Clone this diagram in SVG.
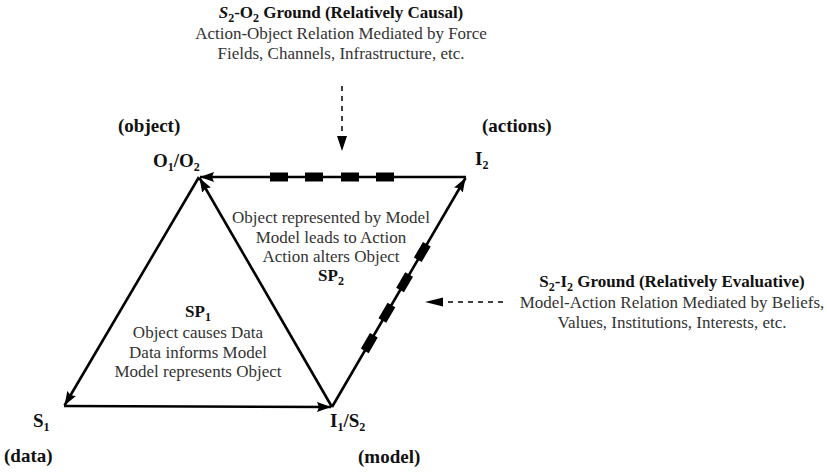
<svg xmlns="http://www.w3.org/2000/svg" width="827" height="472" viewBox="0 0 827 472">
<style>
.t{font-family:"Liberation Serif","Times New Roman",serif;font-size:17px;fill:#333;text-anchor:middle}
.h{font-family:"Liberation Serif","Times New Roman",serif;font-size:17px;font-weight:bold;fill:#111;text-anchor:middle}
.l{font-family:"Liberation Serif","Times New Roman",serif;font-size:19px;font-weight:bold;fill:#111}
.sub{font-size:12px}
.edge{stroke:#000;stroke-width:2.6;fill:none}
.dash{stroke:#000;stroke-width:1.5;fill:none;stroke-dasharray:5 5}
.blk{fill:#000}
</style>
<defs>
<marker id="ah" markerUnits="userSpaceOnUse" markerWidth="16" markerHeight="12" refX="14" refY="5" orient="auto">
<path d="M0,0 L14,5 L0,10 L2,5 z" fill="#000"/>
</marker>
</defs>
<rect width="827" height="472" fill="#fff"/>
<g id="connectors">
<line class="edge" x1="466" y1="177" x2="200" y2="177" marker-end="url(#ah)"/>
<line class="edge" x1="199" y1="177" x2="64.5" y2="405.5" marker-end="url(#ah)"/>
<line class="edge" x1="332" y1="407" x2="199.5" y2="178" marker-end="url(#ah)"/>
<line class="edge" x1="64" y1="406" x2="331" y2="407" marker-end="url(#ah)"/>
<line class="edge" x1="332" y1="407" x2="465.5" y2="178" marker-end="url(#ah)"/>
<g class="blk">
<rect x="270" y="172.5" width="18" height="9"/>
<rect x="305" y="172.5" width="18" height="9"/>
<rect x="341" y="172.5" width="18" height="9"/>
<rect x="376" y="172.5" width="18" height="9"/>
<rect x="-9" y="-4.5" width="18" height="9" transform="translate(369.3,343.1) rotate(-59.78)"/>
<rect x="-9" y="-4.5" width="18" height="9" transform="translate(386.9,312.7) rotate(-59.78)"/>
<rect x="-9" y="-4.5" width="18" height="9" transform="translate(404.6,282.3) rotate(-59.78)"/>
<rect x="-9" y="-4.5" width="18" height="9" transform="translate(422.3,252.0) rotate(-59.78)"/>
</g>
<line class="dash" x1="342" y1="86" x2="342" y2="138"/>
<path class="blk" d="M337,136 L347,136 L342,151 z"/>
<line class="dash" x1="503" y1="302" x2="442" y2="302"/>
<path class="blk" d="M443,297.5 L443,306.5 L425,302 z"/>
</g>
<g id="ground-causal">
<text class="h" x="341" y="18"><tspan font-style="italic">S</tspan><tspan class="sub" dy="4">2</tspan><tspan dy="-4">-O</tspan><tspan class="sub" dy="4">2</tspan><tspan dy="-4"> Ground (Relatively Causal)</tspan></text>
<text class="t" x="341" y="39">Action-Object Relation Mediated by Force</text>
<text class="t" x="341" y="59">Fields, Channels, Infrastructure, etc.</text>
</g>
<g id="ground-evaluative">
<text class="h" x="672" y="287">S<tspan class="sub" dy="4">2</tspan><tspan dy="-4">-I</tspan><tspan class="sub" dy="4">2</tspan><tspan dy="-4"> Ground (Relatively Evaluative)</tspan></text>
<text class="t" x="672" y="308">Model-Action Relation Mediated by Beliefs,</text>
<text class="t" x="672" y="328">Values, Institutions, Interests, etc.</text>
</g>
<g id="sp2">
<text class="t" x="331" y="223">Object represented by Model</text>
<text class="t" x="331" y="243">Model leads to Action</text>
<text class="t" x="331" y="262">Action alters Object</text>
<text class="h" x="331" y="281">SP<tspan class="sub" dy="4">2</tspan></text>
</g>
<g id="sp1">
<text class="h" x="198" y="317">SP<tspan class="sub" dy="4">1</tspan></text>
<text class="t" x="198" y="338">Object causes Data</text>
<text class="t" x="198" y="358">Data informs Model</text>
<text class="t" x="198" y="377">Model represents Object</text>
</g>
<g id="node-o">
<text class="l" x="118" y="132">(object)</text>
<text class="l" x="153" y="167">O<tspan class="sub" dy="4">1</tspan><tspan dy="-4">/O</tspan><tspan class="sub" dy="4">2</tspan></text>
</g>
<g id="node-i2">
<text class="l" x="482" y="132">(actions)</text>
<text class="l" x="475" y="165">I<tspan class="sub" dy="4">2</tspan></text>
</g>
<g id="node-s1">
<text class="l" x="33" y="427">S<tspan class="sub" dy="4">1</tspan></text>
<text class="l" x="4" y="462">(data)</text>
</g>
<g id="node-i1s2">
<text class="l" x="330" y="427">I<tspan class="sub" dy="4">1</tspan><tspan dy="-4">/S</tspan><tspan class="sub" dy="4">2</tspan></text>
<text class="l" x="358" y="463">(model)</text>
</g>
</svg>
